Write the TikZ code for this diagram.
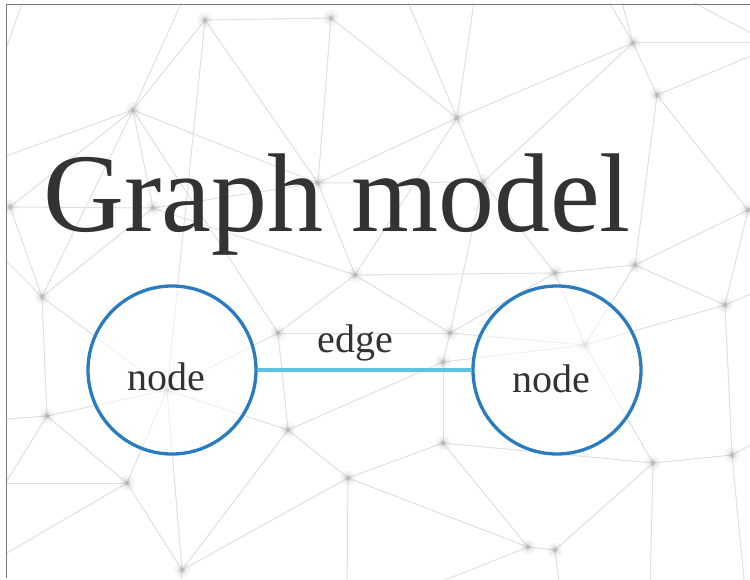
\documentclass[tikz,border=0pt]{standalone}
\usepackage{fontspec}
\setmainfont{Liberation Serif}
\definecolor{inkgray}{HTML}{333333}
\definecolor{meshline}{HTML}{E0E0E0}
\definecolor{meshdot}{HTML}{A0A0A0}
\definecolor{ringblue}{HTML}{2A7CC1}
\definecolor{linkcyan}{HTML}{5CC4E2}
\definecolor{framegray}{HTML}{7A7A7A}
\tikzset{
  mesh/.style={draw=meshline, line width=1pt},
  haloA/.style={fill=meshdot, opacity=0.10},
  haloB/.style={fill=meshdot, opacity=0.18},
  core/.style={fill=meshdot, opacity=0.45},
  ring/.style={circle, draw=ringblue, line width=3.3pt, minimum size=168pt,
               fill=white, fill opacity=0.55, inner sep=0pt},
  linkline/.style={draw=linkcyan, line width=4pt},
  caption/.style={text=inkgray, font=\fontsize{40}{44}\selectfont, inner sep=0pt},
}
\begin{document}
\begin{tikzpicture}[x=1pt,y=-1pt]
\useasboundingbox (0,0) rectangle (750,580);
\fill[white] (0,0) rectangle (750,580);

% background mesh
\begin{scope}
\clip (6,4) rectangle (750,580);
\foreach \n/\px/\py in {
  1/205/20, 2/331/18, 3/133/110, 4/10/207, 5/318/183, 6/153/208, 7/355/275,
  8/633/43, 9/657/95, 10/457/118, 11/483/182, 12/748/210, 13/635/265, 14/555/273,
  15/42/297, 16/47/416, 17/278/333, 18/288/430, 19/127/483, 20/348/478, 21/182/570,
  22/167/390, 23/450/333, 24/443/362, 25/585/345, 26/725/305, 27/443/443, 28/653/463,
  29/732/455, 30/528/547, 31/555/550}
  \coordinate (m\n) at (\px,\py);
\foreach \n/\px/\py in {
  1/185/-5, 2/405/-5, 3/475/-5, 4/605/-5, 5/620/-5, 6/760/43, 7/760/52,
  8/-5/160, 9/-5/420, 10/-5/483, 11/-5/500, 12/347/590, 13/25/-5, 14/-5/80,
  15/680/-5, 16/760/38, 17/-5/250, 18/180/590, 19/560/590, 20/650/590, 21/745/590,
  22/760/290, 23/760/440, 24/-5/560, 25/420/590}
  \coordinate (o\n) at (\px,\py);
\foreach \a/\b in {
  m1/m2, m1/m3, m1/m22, m1/m5, o1/m3, m2/m5, m2/m10, m3/o8, m3/m4, m3/m5, m3/m6,
  m3/m15, m3/m17, m4/m6, m6/m5, m6/m7, m5/m11, m5/m7, m10/o2, m10/o3, m10/m5,
  m10/m8, m10/m11, m10/m7, m8/o4, m8/o5, m8/o6, m8/m9, m8/m11, m9/o7, m9/m13,
  m9/m12, m11/m14, m11/m23, m7/m14, m7/m17, m7/m23, m14/m13, m14/m25, m14/m23,
  m13/m12, m13/m26, m13/m25, m12/m26, m26/m29, m26/m25, m26/o22, m15/m16,
  m15/m22, m15/o17, m15/m6, m16/o9, m16/o11, m16/m22, m16/m19, m22/m17, m22/m19,
  m22/m21, m17/m18, m17/m23, m18/m24, m18/m20, m18/m21, m18/m22, m19/o10,
  m19/m21, m20/m21, m20/m27, m20/o12, m23/m24, m23/m25, m24/m27, m24/m25,
  m27/m30, m27/m28, m25/m28, m28/m29, m28/m31, m30/m31, m30/m20, m21/o18,
  m31/o19, m28/o20, m29/o21, m29/o23, o13/o14, o15/o16, m19/o24, m30/o25, m15/m4}
  \draw[mesh] (\a) -- (\b);
\foreach \n in {1,...,31} {
  \fill[haloA] (m\n) circle (7.5pt);
  \fill[haloB] (m\n) circle (4.5pt);
  \fill[core] (m\n) circle (2.4pt);
}
\end{scope}

% frame edges
\draw[framegray, line width=1.3pt] (6,4.5) -- (750,4.5);
\draw[framegray, line width=1.3pt] (6.5,4) -- (6.5,578);

% title
\node[anchor=base west, inner sep=0pt, text=inkgray,
      font=\fontsize{112}{120}\selectfont] (title) at (43,232) {Graph model};

% the two vertices and the link between them
\node[ring] (left) at (172,370) {};
\node[ring] (right) at (557,370) {};
\draw[linkline] (left) -- (right);

\node[caption, anchor=base] (leftlabel) at (166,390) {node};
\node[caption, anchor=base] (rightlabel) at (551,392) {node};
\node[caption, anchor=base] (linklabel) at (355,352) {edge};
\end{tikzpicture}
\end{document}
